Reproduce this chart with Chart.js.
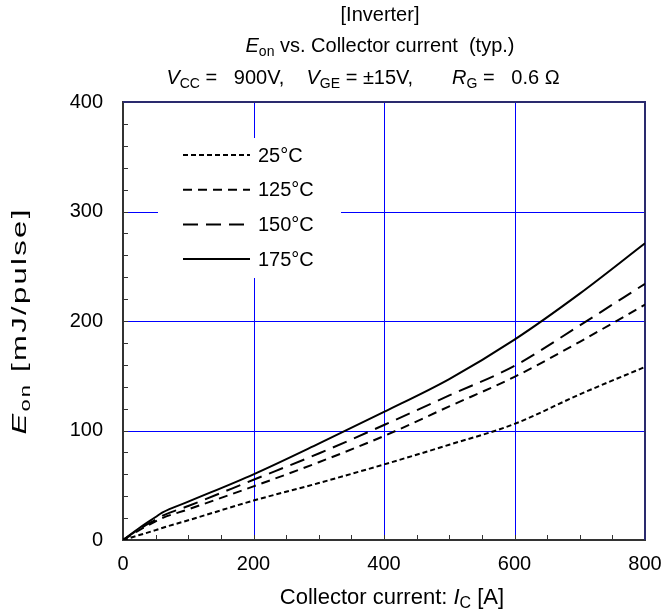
<!DOCTYPE html>
<html>
<head>
<meta charset="utf-8">
<script src="https://cdn.jsdelivr.net/npm/chart.js@4.4.1/dist/chart.umd.min.js"></script>
<style>
  html, body { margin: 0; padding: 0; background: #fff; }
  #wrap { width: 662px; height: 614px; }
</style>
</head>
<body>
<div id="wrap"><canvas id="eon"></canvas></div>
<script>
// collector current [A]
const current = [0, 25, 50, 60, 100, 200, 300, 400, 500, 600, 700, 800];
// Eon [mJ/pulse] per junction temperature
const eon25 = [0, 4.5, 9, 11, 18, 36, 52, 69, 87, 106, 133, 158];
const eon125 = [0, 9, 17, 20, 28, 49, 71, 95, 122, 149, 181, 215];
const eon150 = [0, 10, 18.5, 22, 31, 55, 79, 105, 132, 159, 196, 234];
const eon175 = [0, 11, 21, 25, 35, 60, 88, 117, 147, 183, 225, 271];
const seriesLabels = ["25°C", "125°C", "150°C", "175°C"];
const xTicks = [0, 200, 400, 600, 800];
const yTicks = [0, 100, 200, 300, 400];
const xGrid = [200, 400, 600];
const yGrid = [100, 200, 300];

const FONT = "Arial, 'Liberation Sans', sans-serif";
const SIZE = 20;

const dashes = [[5, 3], [9, 6], [15, 8], []];

const toPoints = ys => current.map((x, i) => ({ x: x, y: ys[i] }));

// draws a line of text made of runs: {t, it (italic), sub (subscript)}
function drawRuns(ctx, runs, x, y, align, size) {
  size = size || SIZE;
  const fontOf = r => (r.it ? "italic " : "") + (r.sub ? Math.round(size * 0.72) : size) + "px " + FONT;
  let total = 0;
  runs.forEach(r => { ctx.font = fontOf(r); total += ctx.measureText(r.t).width; });
  let cx = align === "center" ? x - total / 2 : x;
  ctx.textBaseline = "alphabetic";
  ctx.textAlign = "left";
  runs.forEach(r => {
    ctx.font = fontOf(r);
    ctx.fillText(r.t, cx, r.sub ? y + 4 : y);
    cx += ctx.measureText(r.t).width;
  });
}

const decorPlugin = {
  id: "decor",
  beforeDatasetsDraw(chart) {
    const { ctx, chartArea: a, scales } = chart;
    const px = v => Math.round(scales.x.getPixelForValue(v)) + 0.5;
    const py = v => Math.round(scales.y.getPixelForValue(v)) + 0.5;
    ctx.save();
    // grid
    ctx.lineWidth = 1;
    ctx.strokeStyle = "#0000ff";
    xGrid.forEach(v => {
      ctx.beginPath(); ctx.moveTo(px(v), a.top); ctx.lineTo(px(v), a.bottom); ctx.stroke();
    });
    yGrid.forEach(v => {
      ctx.beginPath(); ctx.moveTo(a.left, py(v)); ctx.lineTo(a.right, py(v)); ctx.stroke();
    });
    // inward ticks
    ctx.strokeStyle = "#333";
    scales.x.ticks.forEach(t => {
      ctx.beginPath(); ctx.moveTo(px(t.value), a.bottom); ctx.lineTo(px(t.value), a.bottom - 5); ctx.stroke();
    });
    scales.y.ticks.forEach(t => {
      ctx.beginPath(); ctx.moveTo(a.left, py(t.value)); ctx.lineTo(a.left + 5, py(t.value)); ctx.stroke();
    });
    // top and right frame
    ctx.strokeStyle = "#2a2a6e";
    ctx.lineWidth = 2;
    ctx.beginPath();
    ctx.moveTo(a.left, a.top); ctx.lineTo(a.right, a.top); ctx.lineTo(a.right, a.bottom);
    ctx.stroke();

    // legend on a white box over the grid
    const lx = a.left + 35, ly = a.top + 36;
    ctx.fillStyle = "#fff";
    ctx.fillRect(lx, ly, 183, 140);
    chart.data.datasets.forEach((ds, i) => {
      const yy = ly + 17 + i * 34.7;
      ctx.strokeStyle = "#000";
      ctx.lineWidth = 2;
      ctx.setLineDash(ds.borderDash);
      ctx.beginPath(); ctx.moveTo(lx + 25, yy); ctx.lineTo(lx + 92, yy); ctx.stroke();
      ctx.setLineDash([]);
      ctx.fillStyle = "#000";
      ctx.font = SIZE + "px " + FONT;
      ctx.textBaseline = "middle";
      ctx.fillText(ds.label, lx + 100, yy + 1);
    });
    ctx.restore();
  },
  afterDraw(chart) {
    const { ctx, chartArea: a } = chart;
    const mid = (a.left + a.right) / 2;
    ctx.save();
    ctx.fillStyle = "#000";
    drawRuns(ctx, [{ t: "[Inverter]" }], mid - 4, 21, "center");
    drawRuns(ctx, [{ t: "E", it: true }, { t: "on", sub: true }, { t: " vs. Collector current  (typ.)" }], mid - 4, 52, "center");
    drawRuns(ctx, [
      { t: "V", it: true }, { t: "CC", sub: true }, { t: " =   900V,    " },
      { t: "V", it: true }, { t: "GE", sub: true }, { t: " = ±15V,       " },
      { t: "R", it: true }, { t: "G", sub: true }, { t: " =   0.6 Ω" }
    ], mid - 21, 84, "center");
    drawRuns(ctx, [{ t: "Collector current: " }, { t: "I", it: true }, { t: "C", sub: true }, { t: " [A]" }], mid + 8, 604, "center", 22);
    // y title, drawn long
    ctx.translate(26, (a.top + a.bottom) / 2);
    ctx.rotate(-Math.PI / 2);
    ctx.scale(1.55, 1);
    ctx.letterSpacing = "1.5px";
    drawRuns(ctx, [{ t: "E", it: true }, { t: "on", sub: true }, { t: " [mJ/pulse]" }], 0, 0, "center");
    ctx.restore();
  }
};

const series = [eon25, eon125, eon150, eon175];

new Chart(document.getElementById("eon"), {
  type: "line",
  data: {
    datasets: series.map((ys, i) => ({
      label: seriesLabels[i],
      data: toPoints(ys),
      borderColor: "#000",
      borderWidth: 2,
      borderDash: dashes[i],
      pointRadius: 0,
      cubicInterpolationMode: "monotone",
      fill: false
    }))
  },
  options: {
    responsive: true,
    maintainAspectRatio: false,
    animation: false,
    events: [],
    layout: { padding: { top: 102, right: 17, left: 0, bottom: 0 } },
    plugins: { legend: { display: false }, tooltip: { enabled: false } },
    scales: {
      x: {
        type: "linear",
        min: 0, max: 800,
        afterFit: s => { s.height = 74; s.paddingLeft = 0; s.paddingRight = 0; },
        ticks: {
          stepSize: 50,
          padding: 12,
          autoSkip: false,
          maxRotation: 0,
          minRotation: 0,
          color: "#000",
          font: { family: FONT, size: SIZE },
          callback: v => (xTicks.includes(v) ? v : "")
        },
        grid: { display: false, drawTicks: false },
        border: { color: "#333", width: 2 }
      },
      y: {
        type: "linear",
        min: 0, max: 400,
        afterFit: s => { s.width = 123; s.paddingTop = 0; s.paddingBottom = 0; },
        ticks: {
          stepSize: 20,
          padding: 20,
          autoSkip: false,
          color: "#000",
          font: { family: FONT, size: SIZE },
          callback: v => (yTicks.includes(v) ? v : "")
        },
        grid: { display: false, drawTicks: false },
        border: { color: "#333", width: 2 }
      }
    }
  },
  plugins: [decorPlugin]
});
</script>
</body>
</html>
